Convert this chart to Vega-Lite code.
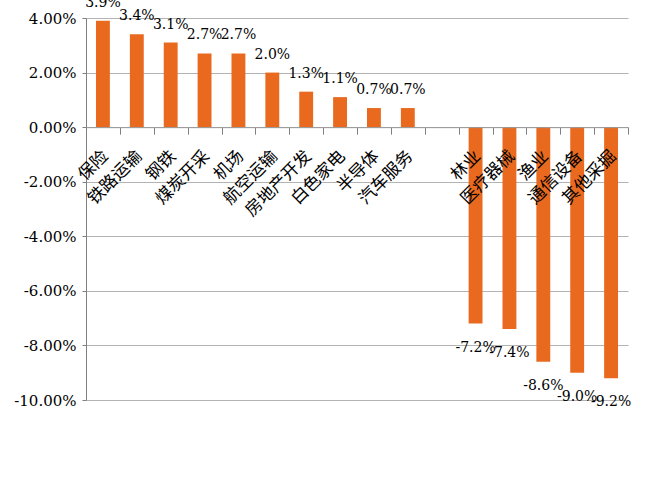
{
  "$schema": "https://vega.github.io/schema/vega-lite/v6.json",
  "width": 542,
  "height": 382,
  "autosize": "none",
  "padding": {"left": 86, "top": 18, "right": 20, "bottom": 85},
  "background": "#ffffff",
  "config": {
    "view": {"stroke": null},
    "locale": {"number": {"decimal": ".", "thousands": ",", "grouping": [3], "currency": ["$", ""], "minus": "-"}}
  },
  "data": {
    "values": [
      {"industry": "保险", "change": 0.039},
      {"industry": "铁路运输", "change": 0.034},
      {"industry": "钢铁", "change": 0.031},
      {"industry": "煤炭开采", "change": 0.027},
      {"industry": "机场", "change": 0.027},
      {"industry": "航空运输", "change": 0.020},
      {"industry": "房地产开发", "change": 0.013},
      {"industry": "白色家电", "change": 0.011},
      {"industry": "半导体", "change": 0.007},
      {"industry": "汽车服务", "change": 0.007},
      {"industry": "林业", "change": -0.072},
      {"industry": "医疗器械", "change": -0.074},
      {"industry": "渔业", "change": -0.086},
      {"industry": "通信设备", "change": -0.090},
      {"industry": "其他采掘", "change": -0.092}
    ]
  },
  "encoding": {
    "x": {
      "field": "industry",
      "type": "nominal",
      "sort": null,
      "scale": {
        "domain": ["保险", "铁路运输", "钢铁", "煤炭开采", "机场", "航空运输", "房地产开发", "白色家电", "半导体", "汽车服务", " ", "林业", "医疗器械", "渔业", "通信设备", "其他采掘"],
        "paddingInner": 0,
        "paddingOuter": 0
      },
      "axis": {
        "title": null,
        "orient": "bottom",
        "offset": -272.857,
        "labelAngle": -45,
        "labelAlign": "right",
        "labelBaseline": "middle",
        "labelPadding": 19,
        "labelOffset": 2,
        "labelFont": "Noto Sans CJK SC",
        "labelFontSize": 17,
        "labelColor": "#000000",
        "labelOverlap": false,
        "tickSize": 7,
        "tickColor": "#808080",
        "domainColor": "#9a9a9a",
        "tickBand": "extent",
        "grid": false,
        "zindex": 1
      }
    },
    "y": {
      "field": "change",
      "type": "quantitative",
      "scale": {"domain": [-0.1, 0.04], "nice": false, "zero": false},
      "axis": {
        "title": null,
        "values": [-0.1, -0.08, -0.06, -0.04, -0.02, 0, 0.02, 0.04],
        "format": ".2%",
        "labelFont": "DejaVu Serif",
        "labelFontSize": 15,
        "labelColor": "#000000",
        "labelPadding": 6,
        "tickSize": 4,
        "tickColor": "#808080",
        "domainColor": "#808080",
        "gridColor": "#b3b3b3",
        "gridWidth": 1.2
      }
    }
  },
  "layer": [
    {"mark": {"type": "bar", "color": "#E96A1F", "width": {"band": 0.41}}},
    {
      "transform": [{"filter": "datum.change >= 0"}],
      "mark": {"type": "text", "font": "DejaVu Serif", "fontSize": 14, "color": "#000000", "baseline": "alphabetic", "dy": -14},
      "encoding": {"text": {"field": "change", "type": "quantitative", "format": ".1%"}}
    },
    {
      "transform": [{"filter": "datum.change < 0"}],
      "mark": {"type": "text", "font": "DejaVu Serif", "fontSize": 14, "color": "#000000", "baseline": "alphabetic", "dy": 28},
      "encoding": {"text": {"field": "change", "type": "quantitative", "format": ".1%"}}
    }
  ]
}
